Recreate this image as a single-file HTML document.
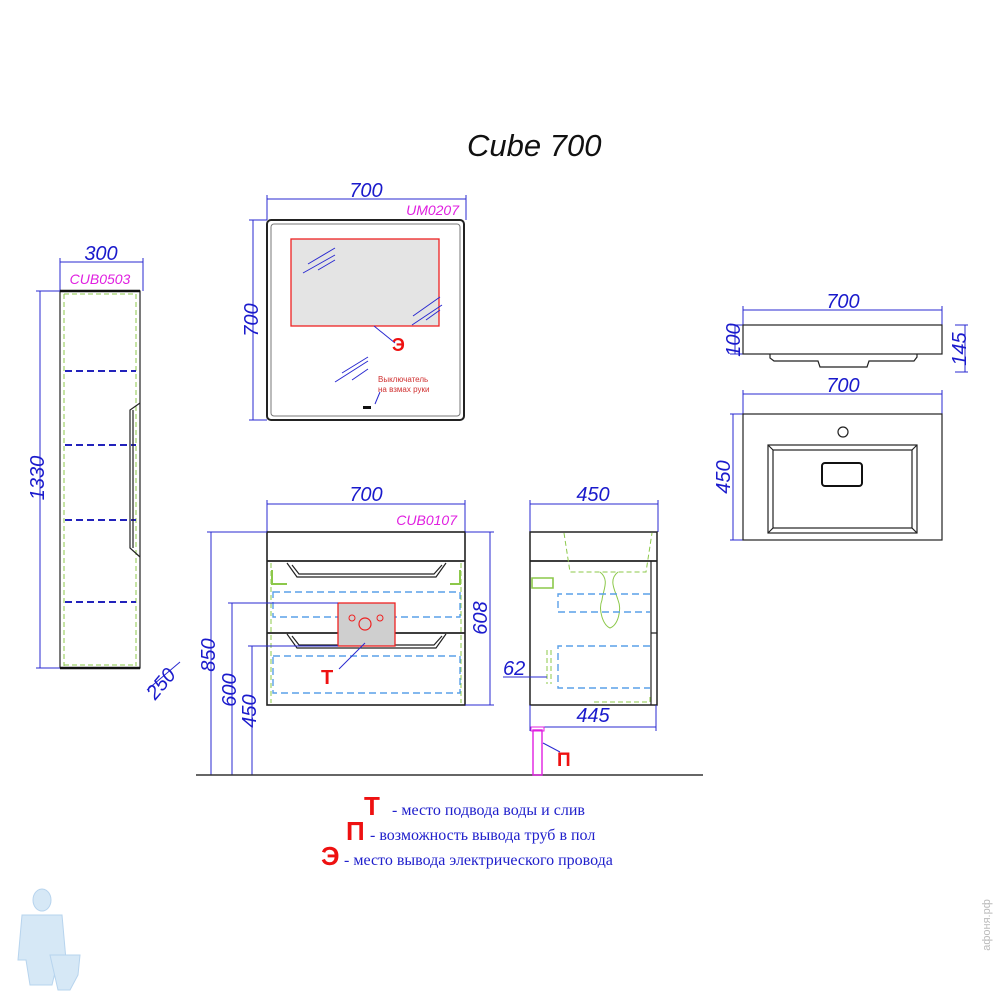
<!DOCTYPE html>
<html><head><meta charset="utf-8"><style>
html,body{margin:0;padding:0;background:#fff}
svg{display:block}
text{font-family:"Liberation Sans",sans-serif}
.d{fill:#1a1acc;font-style:italic;font-size:20px}
.m{fill:#e020e0;font-style:italic;font-size:14px}
.dl{stroke:#2a2ad0;stroke-width:1;fill:none}
.k{stroke:#222;fill:none;stroke-width:1.2}
.g{stroke:#8cc84a;stroke-dasharray:5 3;fill:none;stroke-width:1}
.b{stroke:#5aa0e8;stroke-dasharray:7 4;fill:none;stroke-width:1.4}
.bb{stroke:#2222bb;stroke-dasharray:7 4;fill:none;stroke-width:2}
.lg{font-family:"Liberation Serif",serif;fill:#2020cc;font-size:16px}
.r{fill:#ee1111;font-weight:bold}
</style></head><body>
<svg width="1000" height="1000" viewBox="0 0 1000 1000">
<text x="467" y="156" style="font-size:31px;font-style:italic;fill:#111">Cube 700</text>

<!-- column -->
<path class="dl" d="M60 262H143M60 258V291M143 258V291"/>
<text class="d" x="101" y="260" text-anchor="middle">300</text>
<text class="m" x="100" y="284" text-anchor="middle">CUB0503</text>
<rect class="k" x="60" y="291" width="80" height="377"/>
<path d="M60 291H140M60 668H140" stroke="#111" stroke-width="2.5"/>
<path class="g" d="M64 294V666M136 294V666M64 294H136M64 665H136"/>
<path class="bb" d="M65 371H136M65 445H136M65 520H136M65 602H136"/>
<path class="k" d="M140 403L130 410V548L140 557M133 410V548"/>
<path class="dl" d="M40 291V668M36 291H60M36 668H60"/>
<text class="d" transform="translate(44 478) rotate(-90)" text-anchor="middle">1330</text>
<path class="dl" d="M147 690L180 662"/>
<text class="d" transform="translate(166 688) rotate(-50)" text-anchor="middle">250</text>

<!-- mirror -->
<path class="dl" d="M267 199H466M267 195V220M466 195V220"/>
<text class="d" x="366" y="197" text-anchor="middle">700</text>
<text class="m" x="459" y="215" text-anchor="end">UM0207</text>
<path class="dl" d="M253 220V420M249 220H267M249 420H267"/>
<text class="d" transform="translate(258 320) rotate(-90)" text-anchor="middle">700</text>
<rect x="267" y="220" width="197" height="200" rx="4" fill="none" stroke="#222" stroke-width="2"/>
<rect x="271" y="224" width="189" height="192" rx="3" fill="none" stroke="#777" stroke-width="1"/>
<rect x="291" y="239" width="148" height="87" fill="#e4e4e4" stroke="#ee2222" stroke-width="1.3"/>
<path class="dl" d="M308 264L335 248M303 273L335 255M318 270L335 260M413 316L440 297M412 325L442 305M426 320L440 310M335 382L368 361M342 373L368 357M352 380L368 369M374 326L395 343M375 404L380 392"/>
<text class="r" x="392" y="351" style="font-size:18px">Э</text>
<text x="378" y="382" style="font-size:8px;fill:#d03030">Выключатель</text>
<text x="378" y="392" style="font-size:8px;fill:#d03030">на взмах руки</text>
<rect x="363" y="406" width="8" height="3" fill="#111"/>

<!-- vanity front -->
<path class="dl" d="M267 504H465M267 500V532M465 500V532"/>
<text class="d" x="366" y="501" text-anchor="middle">700</text>
<text class="m" x="457" y="525" text-anchor="end">CUB0107</text>
<rect x="267" y="532" width="198" height="173" fill="none" stroke="#222" stroke-width="1.6"/>
<path d="M267 561H465M267 633H465" stroke="#222" stroke-width="1.8"/>
<path class="k" d="M287 563L297 577H436L446 563M292 565L299 574H434L442 565"/>
<path class="k" d="M287 634L297 648H436L446 634M292 636L299 645H434L442 636"/>
<path class="g" d="M271 563V703M461 563V703"/>
<path d="M272 570V584H287M450 584H460V570" stroke="#8cc84a" stroke-width="2" fill="none"/>
<rect class="b" x="273" y="592" width="187" height="25"/>
<rect class="b" x="273" y="656" width="187" height="37"/>
<rect x="338" y="603" width="57" height="43" fill="#cfcfcf" stroke="#ee2222" stroke-width="1.3"/>
<circle cx="365" cy="624" r="6" fill="none" stroke="#ee2222" stroke-width="1.2"/>
<circle cx="352" cy="618" r="3" fill="none" stroke="#ee2222"/>
<circle cx="380" cy="618" r="3" fill="none" stroke="#ee2222"/>
<path class="dl" d="M365 643L339 669"/>
<text class="r" x="321" y="684" style="font-size:20px">Т</text>
<path class="dl" d="M211 532V775M207 532H267M232 603V775M228 603H338M252 646V775M248 646H338M490 532V705M465 532H494M465 705H494"/>
<text class="d" transform="translate(215 655) rotate(-90)" text-anchor="middle">850</text>
<text class="d" transform="translate(236 690) rotate(-90)" text-anchor="middle">600</text>
<text class="d" transform="translate(256 711) rotate(-90)" text-anchor="middle">450</text>
<text class="d" transform="translate(487 618) rotate(-90)" text-anchor="middle">608</text>
<path d="M196 775H703" stroke="#333" stroke-width="1.5"/>

<!-- side view -->
<path class="dl" d="M530 504H658M530 500V532M658 500V532"/>
<text class="d" x="593" y="501" text-anchor="middle">450</text>
<rect x="530" y="532" width="127" height="173" fill="none" stroke="#222" stroke-width="1.5"/>
<path d="M530 561H657" stroke="#222" stroke-width="1.8"/>
<path class="k" d="M651 561V705M651 633H657"/>
<path class="g" d="M564 533L570 572H646L652 533"/>
<path d="M600 572C610 580 603 590 602 600C598 610 603 625 610 628C618 625 622 610 618 600C615 590 608 580 618 572" stroke="#8cc84a" fill="none"/>
<path d="M532 578H553V588H532Z" stroke="#8cc84a" fill="none" stroke-width="1.6"/>
<path class="g" d="M547 650V684M551 650V684M594 702H650V697"/>
<path class="b" d="M650 594H558V612H650M650 646H558V688H650"/>
<path class="dl" d="M503 677H547M530 727H656M530 705V731M656 705V731"/>
<text class="d" x="503" y="675">62</text>
<text class="d" x="593" y="722" text-anchor="middle">445</text>
<rect x="533" y="730" width="9" height="45" fill="none" stroke="#e020e0" stroke-width="1.4"/>
<rect x="531" y="727" width="13" height="4" fill="none" stroke="#e020e0"/>
<path class="dl" d="M543 743L560 752"/>
<text class="r" x="557" y="766" style="font-size:19px">П</text>

<!-- basin side -->
<path class="dl" d="M743 310H942M743 306V325M942 306V325M730 325H743M730 354H743M955 325H968M955 372H968M965 325V372M735 325V354"/>
<text class="d" x="843" y="308" text-anchor="middle">700</text>
<text class="d" transform="translate(740 340) rotate(-90)" text-anchor="middle">100</text>
<text class="d" transform="translate(966 349) rotate(-90)" text-anchor="middle">145</text>
<rect class="k" x="743" y="325" width="199" height="29"/>
<path class="k" d="M770 354V358L774 361H818L820 367H867L869 361H914L917 357V354"/>

<!-- basin top -->
<path class="dl" d="M743 394H942M743 390V414M942 390V414M730 414H743M730 540H743M733 414V540"/>
<text class="d" x="843" y="392" text-anchor="middle">700</text>
<text class="d" transform="translate(730 477) rotate(-90)" text-anchor="middle">450</text>
<rect class="k" x="743" y="414" width="199" height="126"/>
<circle cx="843" cy="432" r="5" class="k"/>
<rect class="k" x="768" y="445" width="149" height="88"/>
<rect class="k" x="773" y="450" width="139" height="78"/>
<path class="k" d="M768 445L773 450M917 445L912 450M768 533L773 528M917 533L912 528"/>
<rect x="822" y="463" width="40" height="23" rx="3" fill="none" stroke="#111" stroke-width="2"/>

<!-- legend -->
<text class="r" x="364" y="815" style="font-size:26px;font-weight:900">Т</text>
<text class="lg" x="392" y="815">- место подвода воды и слив</text>
<text class="r" x="346" y="840" style="font-size:26px;font-weight:900">П</text>
<text class="lg" x="370" y="840">- возможность вывода труб в пол</text>
<text class="r" x="321" y="865" style="font-size:26px;font-weight:900">Э</text>
<text class="lg" x="344" y="865">-  место вывода электрического провода</text>

<!-- mascot -->
<g fill="#d6e8f6" stroke="#b7d4ee">
<ellipse cx="42" cy="900" rx="9" ry="11"/>
<path d="M22 915H62L66 960H58L52 985H30L26 960H18Z"/>
<path d="M50 955H80L78 975L70 990H58Z"/>
</g>
<text transform="translate(990 925) rotate(-90)" text-anchor="middle" style="font-size:11px;fill:#bbb">афоня.рф</text>
</svg>
</body></html>
